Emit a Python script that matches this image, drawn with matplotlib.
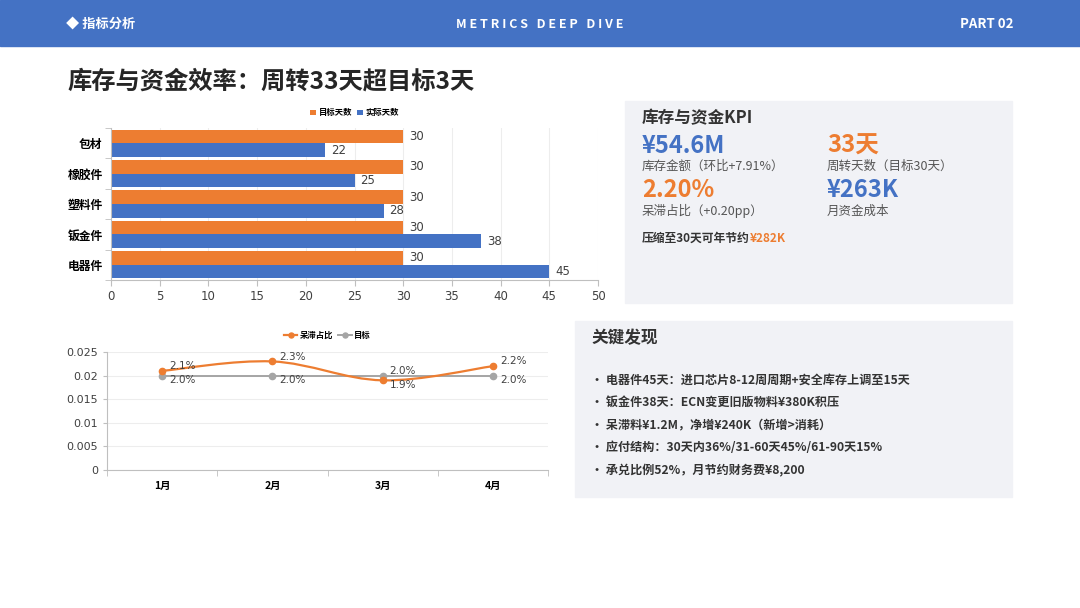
import numpy as np
import matplotlib.pyplot as plt
from matplotlib.patches import Rectangle, PathPatch
from matplotlib.path import Path

plt.rcParams['font.family'] = ['Noto Sans CJK SC', 'DejaVu Sans']

BLUE = '#4472C4'
ORANGE = '#ED7D31'
GRAY = '#A5A5A5'
DARK = '#333333'

# bar chart data
categories = ['电器件', '钣金件', '塑料件', '橡胶件', '包材']
target_days = [30, 30, 30, 30, 30]
actual_days = [45, 38, 28, 25, 22]

# line chart data
months = ['1月', '2月', '3月', '4月']
stale_ratio = [0.021, 0.023, 0.019, 0.022]
stale_target = [0.020, 0.020, 0.020, 0.020]

kpi_items = [
    ('¥54.6M', '库存金额（环比+7.91%）', BLUE),
    ('33天', '周转天数（目标30天）', ORANGE),
    ('2.20%', '呆滞占比（+0.20pp）', ORANGE),
    ('¥263K', '月资金成本', BLUE),
]
findings = [
    '电器件45天：进口芯片8-12周周期+安全库存上调至15天',
    '钣金件38天：ECN变更旧版物料¥380K积压',
    '呆滞料¥1.2M，净增¥240K（新增>消耗）',
    '应付结构：30天内36%/31-60天45%/61-90天15%',
    '承兑比例52%，月节约财务费¥8,200',
]

W, H = 1080, 608
fig = plt.figure(figsize=(W / 100, H / 100), dpi=100)
fig.patch.set_facecolor('white')


def fx(px):
    return px / W


def fy(py):
    return 1 - py / H


# header band
fig.add_artist(Rectangle((0, fy(46)), 1, 46 / H, transform=fig.transFigure,
                         color=BLUE, zorder=0))
fig.text(fx(66), fy(24), '◆ 指标分析', color='white', fontsize=9.5,
         fontweight='bold', va='center', ha='left')
fig.text(0.5, fy(24), 'M E T R I C S   D E E P   D I V E', color='white',
         fontsize=9, fontweight='bold', va='center', ha='center')
fig.text(fx(1013), fy(24), 'PART 02', color='white', fontsize=9.5,
         fontweight='bold', va='center', ha='right')

fig.text(fx(67), fy(82), '库存与资金效率：周转33天超目标3天', color='#262626',
         fontsize=17.5, fontweight='bold', va='center', ha='left')

# ---- bar chart
ax = fig.add_axes([fx(111), fy(280), fx(598 - 111), (280 - 128) / H])
y = np.arange(len(categories))
h = 0.45
b1 = ax.barh(y + h / 2, target_days, height=h, color=ORANGE, label='目标天数')
b2 = ax.barh(y - h / 2, actual_days, height=h, color=BLUE, label='实际天数')
for bars in (b1, b2):
    for r in bars:
        ax.text(r.get_width() + 0.6, r.get_y() + r.get_height() / 2,
                f'{r.get_width():.0f}', va='center', ha='left',
                fontsize=8.5, color='#404040', family='DejaVu Sans')
ax.set_xlim(0, 50)
ax.set_ylim(-0.5, len(categories) - 0.5)
ax.set_xticks(range(0, 51, 5))
ax.set_yticks(y)
ax.set_yticklabels(categories, fontsize=8.5, fontweight='bold')
ax.set_yticks(np.arange(-0.5, len(categories), 1), minor=True)
ax.tick_params(axis='y', which='major', length=0, pad=6)
ax.tick_params(axis='y', which='minor', length=4, color='#BFBFBF')
ax.tick_params(axis='x', labelsize=8.5, labelcolor='#404040', length=4,
               color='#BFBFBF')
for lab in ax.get_xticklabels():
    lab.set_family('DejaVu Sans')
ax.grid(axis='x', color='#EDEDED', linewidth=0.8)
ax.set_axisbelow(True)
for s in ('top', 'right'):
    ax.spines[s].set_visible(False)
ax.spines['left'].set_color('#BFBFBF')
ax.spines['bottom'].set_color('#BFBFBF')
ax.legend(loc='lower center', bbox_to_anchor=(0.5, 1.02), ncol=2,
          frameon=False, prop={'size': 6, 'weight': 'bold'},
          handlelength=0.7, handleheight=0.7, columnspacing=0.6,
          handletextpad=0.3)

# ---- line chart
ax2 = fig.add_axes([fx(107), fy(470), fx(548 - 107), (470 - 352) / H])
x = np.arange(len(months))


def smooth_path(xs, ys, t=0.35):
    verts = [(xs[0], ys[0])]
    codes = [Path.MOVETO]
    n = len(xs)
    for i in range(n - 1):
        p0 = (xs[max(i - 1, 0)], ys[max(i - 1, 0)])
        p1 = (xs[i], ys[i])
        p2 = (xs[i + 1], ys[i + 1])
        p3 = (xs[min(i + 2, n - 1)], ys[min(i + 2, n - 1)])
        c1 = (p1[0] + (p2[0] - p0[0]) * t / 2, p1[1] + (p2[1] - p0[1]) * t / 2)
        c2 = (p2[0] - (p3[0] - p1[0]) * t / 2, p2[1] - (p3[1] - p1[1]) * t / 2)
        verts += [c1, c2, p2]
        codes += [Path.CURVE4] * 3
    return Path(verts, codes)


ax2.add_patch(PathPatch(smooth_path(x, stale_ratio), fill=False,
                        edgecolor=ORANGE, linewidth=1.6, zorder=3))
ax2.plot(x, stale_ratio, 'o', color=ORANGE, markersize=4.5, zorder=4)
ax2.plot(x, stale_target, '-o', color=GRAY, linewidth=1.4, markersize=4.5,
         zorder=2)
ax2.plot([], [], '-o', color=ORANGE, linewidth=1.6, markersize=4.5,
         label='呆滞占比')
ax2.plot([], [], '-o', color=GRAY, linewidth=1.4, markersize=4.5, label='目标')
for xi, v, tv in zip(x, stale_ratio, stale_target):
    up = 1 if v >= tv else -1
    ax2.annotate(f'{v * 100:.1f}%', (xi, v), xytext=(5, 3.5 * up),
                 textcoords='offset points', va='center', ha='left',
                 fontsize=7.5, color='#404040', family='DejaVu Sans', zorder=5)
    ax2.annotate(f'{tv * 100:.1f}%', (xi, tv), xytext=(5, -3.5 * up),
                 textcoords='offset points', va='center', ha='left',
                 fontsize=7.5, color='#404040', family='DejaVu Sans', zorder=5)
ax2.set_xlim(-0.5, len(months) - 0.5)
ax2.set_ylim(0, 0.025)
ax2.set_yticks([0, 0.005, 0.01, 0.015, 0.02, 0.025])
ax2.set_yticklabels(['0', '0.005', '0.01', '0.015', '0.02', '0.025'],
                    family='DejaVu Sans')
ax2.set_xticks(x)
ax2.set_xticklabels(months, fontsize=7.5, fontweight='bold')
ax2.set_xticks(np.arange(-0.5, len(months), 1), minor=True)
ax2.tick_params(axis='x', which='major', length=0, pad=8)
ax2.tick_params(axis='x', which='minor', length=4, color='#BFBFBF')
ax2.tick_params(axis='y', labelsize=8, labelcolor='#404040', length=3,
                color='#BFBFBF')
ax2.grid(axis='y', color='#EDEDED', linewidth=0.8)
ax2.set_axisbelow(True)
for s in ('top', 'right'):
    ax2.spines[s].set_visible(False)
ax2.spines['left'].set_color('#BFBFBF')
ax2.spines['bottom'].set_color('#BFBFBF')
ax2.legend(loc='lower center', bbox_to_anchor=(0.5, 1.04), ncol=2,
           frameon=False, prop={'size': 6, 'weight': 'bold'},
           handlelength=1.6, columnspacing=0.6, handletextpad=0.3,
           markerscale=0.8)

# ---- KPI panel
fig.add_artist(Rectangle((fx(625), fy(303)), fx(1012 - 625), (303 - 101) / H,
                         transform=fig.transFigure, color='#F1F2F6', zorder=0))
fig.text(fx(642), fy(118), '库存与资金KPI', color=DARK, fontsize=12,
         fontweight='bold', va='center')
pos = [(642, 146, 166), (827, 146, 166), (642, 190, 211), (827, 190, 211)]
for (val, lab, col), (px, vy, ly) in zip(kpi_items, pos):
    fig.text(fx(px), fy(vy), val, color=col, fontsize=17, fontweight='bold',
             va='center')
    fig.text(fx(px), fy(ly), lab, color='#555555', fontsize=9, va='center')
t = fig.text(fx(642), fy(238), '压缩至30天可年节约', color=DARK, fontsize=8.5,
             fontweight='bold', va='center')
fig.canvas.draw()
bb = t.get_window_extent()
fig.text(bb.x1 / W, fy(238), '¥282K', color=ORANGE, fontsize=8.5,
         fontweight='bold', va='center')

# ---- findings panel
fig.add_artist(Rectangle((fx(575), fy(497)), fx(1012 - 575), (497 - 321) / H,
                         transform=fig.transFigure, color='#F1F2F6', zorder=0))
fig.text(fx(591), fy(338), '关键发现', color=DARK, fontsize=12,
         fontweight='bold', va='center')
for i, line in enumerate(findings):
    fig.text(fx(591), fy(380 + i * 22.6), '• ' + line, color=DARK,
             fontsize=8.7, fontweight='bold', va='center')

fig.savefig('out.png', dpi=100)
